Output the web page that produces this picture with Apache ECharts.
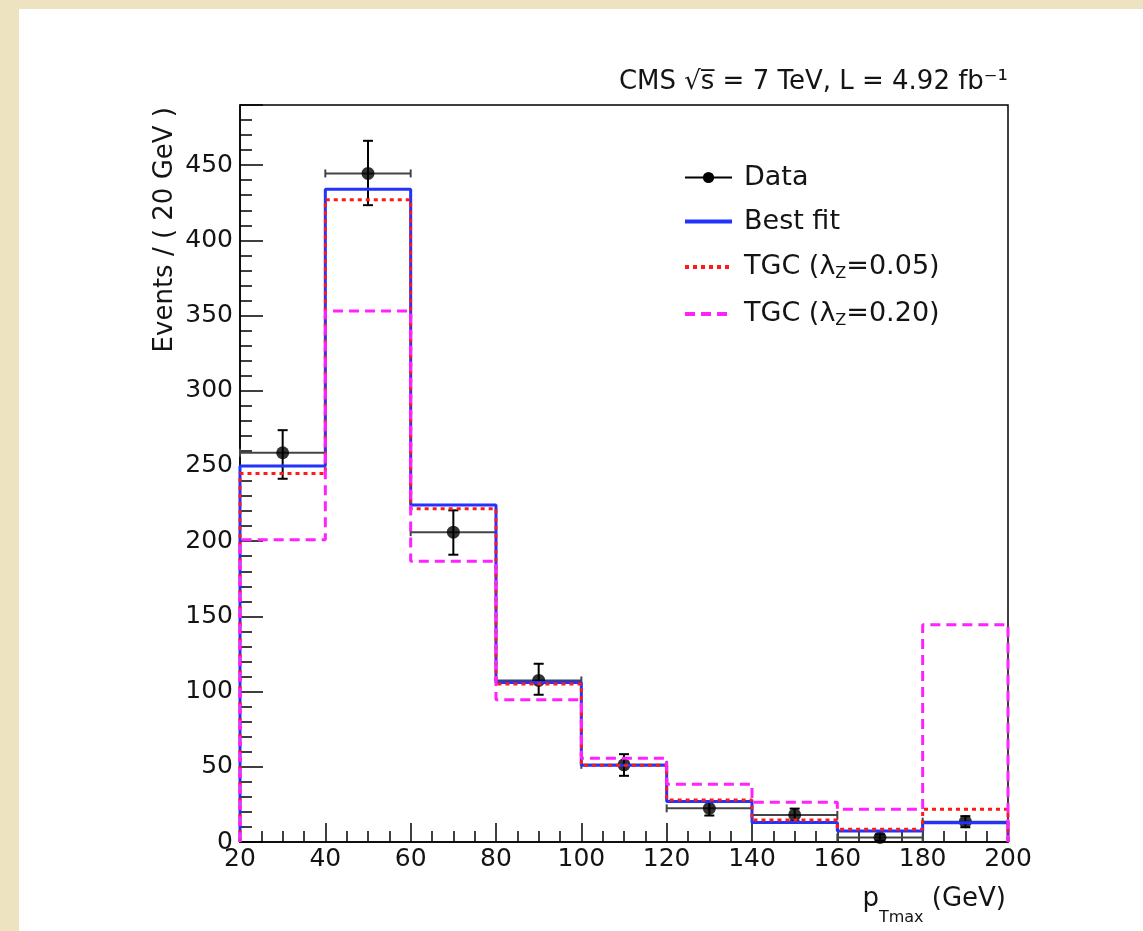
<!DOCTYPE html>
<html>
<head>
<meta charset="utf-8">
<script src="https://cdn.jsdelivr.net/npm/echarts@6/dist/echarts.min.js"></script>
<style>
  html, body { margin: 0; padding: 0; width: 1143px; height: 931px; background: #eee3c1; overflow: hidden; }
  #chart { position: absolute; left: 19px; top: 9px; width: 1124px; height: 922px; background: #ffffff; }
</style>
</head>
<body>
<div id="chart"></div>
<script>
// ---- data ----
const binEdges = [20, 40, 60, 80, 100, 120, 140, 160, 180, 200];
const bestFit  = [250, 434, 224, 106, 51, 27, 13, 7.3, 12.8];
const tgc005   = [245, 427, 221.5, 105, 51, 28, 14.6, 8.4, 21.8];
const tgc020   = [201, 353, 186.6, 94.5, 55.7, 38.4, 26.4, 21.8, 144.5];
const dataX    = [30, 50, 70, 90, 110, 130, 150, 170, 190];
const dataY    = [258.8, 444.5, 206, 107.4, 51.3, 22.4, 18, 3, 13.5];
const dataErrUp   = [15, 21.7, 14.5, 11.1, 7.1, 4.8, 4.2, 2, 3.7];
const dataErrDown = [17.3, 21.1, 15, 9.5, 7.3, 4.8, 4.2, 2, 3.7];
const xTicksMajor = 20, xTicksMinor = 5, yTicksMajor = 50, yTicksMinor = 10;
const xMin = 20, xMax = 200, yMin = 0, yMax = 490;

function stepPoints(vals) {
  const pts = [[binEdges[0], 0]];
  for (let i = 0; i < vals.length; i++) {
    pts.push([binEdges[i], vals[i]]);
    pts.push([binEdges[i + 1], vals[i]]);
  }
  pts.push([binEdges[binEdges.length - 1], 0]);
  return pts;
}

const errData = dataX.map((x, i) => [x, dataY[i], dataErrDown[i], dataErrUp[i], (binEdges[i + 1] - binEdges[i]) / 2]);

const FONT = 'DejaVu Sans';
const TXT = '#141414';
const chart = echarts.init(document.getElementById('chart'), null, { renderer: 'canvas' });

const legendNames = {
  'Data': '{g|}{t|Data}',
  'Best fit': '{g|}{t|Best fit}',
  'TGC (λZ=0.05)': '{g|}{t|TGC (λ}{s|Z}{t|=0.05)}',
  'TGC (λZ=0.20)': '{g|}{t|TGC (λ}{s|Z}{t|=0.20)}'
};

chart.setOption({
  backgroundColor: '#ffffff',
  animation: false,
  grid: { left: 221, right: 135, top: 96, bottom: 89, show: true, borderColor: '#000', borderWidth: 1.5, backgroundColor: 'transparent' },
  xAxis: [
    { type: 'value', min: xMin, max: xMax, interval: xTicksMajor, position: 'bottom',
      axisLine: { show: true, onZero: false, lineStyle: { color: '#000', width: 1.5 } },
      axisTick: { show: true, inside: true, length: 19, lineStyle: { color: '#000', width: 1.5 } },
      axisLabel: { color: TXT, fontFamily: FONT, fontSize: 25, margin: 5 },
      splitLine: { show: false } },
    { type: 'value', min: xMin, max: xMax, interval: xTicksMinor, position: 'bottom',
      axisLine: { show: false }, axisLabel: { show: false },
      axisTick: { show: true, inside: true, length: 11, lineStyle: { color: '#000', width: 1.5 } },
      splitLine: { show: false } }
  ],
  yAxis: [
    { type: 'value', min: yMin, max: yMax, interval: yTicksMajor, position: 'left',
      axisLine: { show: true, onZero: false, lineStyle: { color: '#000', width: 1.5 } },
      axisTick: { show: true, inside: true, length: 23, lineStyle: { color: '#000', width: 1.5 } },
      axisLabel: { color: TXT, fontFamily: FONT, fontSize: 25, margin: 7,
        formatter: v => (v % yTicksMajor === 0 ? String(v) : '') },
      splitLine: { show: false } },
    { type: 'value', min: yMin, max: yMax, interval: yTicksMinor, position: 'left', offset: 0,
      axisLine: { show: false }, axisLabel: { show: false },
      axisTick: { show: true, inside: true, length: 12, lineStyle: { color: '#000', width: 1.5 } },
      splitLine: { show: false } }
  ],
  legend: {
    orient: 'vertical', left: 664, top: 155, padding: 0, itemWidth: 47, itemHeight: 14, itemGap: 17,
    data: [
      { name: 'Data', lineStyle: { width: 2 } },
      { name: 'Best fit', lineStyle: { width: 4 } },
      { name: 'TGC (λZ=0.05)', lineStyle: { width: 4 } },
      { name: 'TGC (λZ=0.20)', lineStyle: { width: 4 } }
    ],
    formatter: n => legendNames[n],
    textStyle: {
      rich: {
        g: { width: 7, lineHeight: 30 },
        t: { fontFamily: FONT, fontSize: 27, color: TXT, lineHeight: 30 },
        s: { fontFamily: FONT, fontSize: 16, color: TXT, verticalAlign: 'bottom', padding: [14, 0, 0, 0], lineHeight: 30 }
      }
    }
  },
  graphic: [
    { type: 'text', right: 135, top: 60, z: 10,
      style: { text: 'CMS √s̅ = 7 TeV, L = 4.92 fb⁻¹', font: '26px "DejaVu Sans"', fill: TXT } },
    { type: 'text', left: 133, top: 98, rotation: Math.PI / 2, z: 10,
      style: { text: 'Events / ( 20 GeV )', font: '26px "DejaVu Sans"', fill: TXT, textAlign: 'right', textVerticalAlign: 'top' } },
    { type: 'text', right: 137, top: 877, z: 10,
      style: { rich: { p: { font: '26px "DejaVu Sans"', fill: TXT, verticalAlign: 'top' }, s: { font: '16px "DejaVu Sans"', fill: TXT, padding: [24, 0, 0, 0], verticalAlign: 'top' } },
        text: '{p|p}{s|Tmax}{p| (GeV)}' } }
  ],
  series: [
    { name: 'Data', type: 'line', data: [], symbol: 'circle', symbolSize: 12,
      itemStyle: { color: '#000' }, lineStyle: { color: '#000', width: 2 } },
    { type: 'custom', xAxisIndex: 0, yAxisIndex: 0, z: 2, data: errData,
      renderItem: function (params, api) {
        const x = api.value(0), y = api.value(1), lo = api.value(2), hi = api.value(3), hw = api.value(4);
        const pT = api.coord([x, y + hi]), pB = api.coord([x, y - lo]);
        const pL = api.coord([x - hw, y]), pR = api.coord([x + hw, y]);
        const vs = { stroke: '#000', lineWidth: 2 };
        const hs = { stroke: '#444', lineWidth: 2 };
        return { type: 'group', children: [
          { type: 'line', shape: { x1: pL[0], y1: pL[1], x2: pR[0], y2: pR[1] }, style: hs },
          { type: 'line', shape: { x1: pL[0], y1: pL[1] - 4, x2: pL[0], y2: pL[1] + 4 }, style: hs },
          { type: 'line', shape: { x1: pR[0], y1: pR[1] - 4, x2: pR[0], y2: pR[1] + 4 }, style: hs },
          { type: 'line', shape: { x1: pT[0], y1: pT[1], x2: pB[0], y2: pB[1] }, style: vs },
          { type: 'line', shape: { x1: pT[0] - 5, y1: pT[1], x2: pT[0] + 5, y2: pT[1] }, style: vs },
          { type: 'line', shape: { x1: pB[0] - 5, y1: pB[1], x2: pB[0] + 5, y2: pB[1] }, style: vs }
        ] };
      } },
    { type: 'scatter', z: 2, data: dataX.map((x, i) => [x, dataY[i]]), symbol: 'circle', symbolSize: 13,
      itemStyle: { color: '#000' } },
    { name: 'Best fit', type: 'line', z: 3, data: stepPoints(bestFit), symbol: 'none',
      lineStyle: { color: '#2233ff', width: 3 }, itemStyle: { color: '#2233ff', opacity: 0 } },
    { name: 'TGC (λZ=0.05)', type: 'line', z: 4, data: stepPoints(tgc005), symbol: 'none',
      lineStyle: { color: '#ff1a1a', width: 3, type: [4, 4] }, itemStyle: { color: '#ff1a1a', opacity: 0 } },
    { name: 'TGC (λZ=0.20)', type: 'line', z: 5, data: stepPoints(tgc020), symbol: 'none',
      lineStyle: { color: '#ff22ff', width: 3, type: [10, 6] }, itemStyle: { color: '#ff22ff', opacity: 0 } }
  ]
});
</script>
</body>
</html>
